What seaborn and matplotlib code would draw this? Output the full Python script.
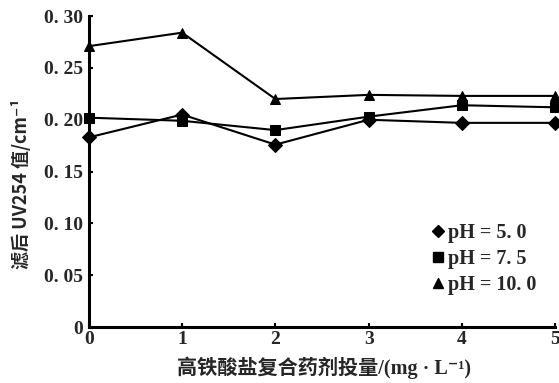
import matplotlib
matplotlib.use("Agg")
import matplotlib.pyplot as plt
from matplotlib.lines import Line2D
import seaborn as sns
import pandas as pd

# Dosage of composite ferrate agent (mg/L)
dosage = [0, 1, 2, 3, 4, 5]
# UV254 after filtration (cm^-1) for three pH values
uv_ph50 = [0.183, 0.205, 0.176, 0.200, 0.197, 0.197]
uv_ph75 = [0.202, 0.199, 0.190, 0.203, 0.214, 0.212]
uv_ph100 = [0.271, 0.284, 0.220, 0.224, 0.223, 0.223]
series_labels = ["pH = 5. 0", "pH = 7. 5", "pH = 10. 0"]
y_ticks = [0, 0.05, 0.10, 0.15, 0.20, 0.25, 0.30]
y_tick_labels = ["0", "0. 05", "0. 10", "0. 15", "0. 20", "0. 25", "0. 30"]
x_tick_labels = ["0", "1", "2", "3", "4", "5"]

df = pd.DataFrame({
    "dosage": dosage * 3,
    "uv": uv_ph50 + uv_ph75 + uv_ph100,
    "series": [series_labels[0]] * 6 + [series_labels[1]] * 6 + [series_labels[2]] * 6,
})

sns.set_theme(style="white")
fam = ["Liberation Serif", "Noto Sans CJK SC", "DejaVu Sans"]
cjk = ["Noto Sans CJK SC", "DejaVu Sans"]
plt.rcParams["font.family"] = fam

fig = plt.figure(figsize=(5.59, 3.83), dpi=100)
ax = fig.add_axes([0.159, 0.146, 0.834, 0.812])

markers = {series_labels[0]: "D", series_labels[1]: "s", series_labels[2]: "^"}
sns.lineplot(data=df, x="dosage", y="uv", hue="series", style="series",
             markers=markers, dashes=False, palette=["black"] * 3,
             linewidth=1.5, markersize=7, markeredgecolor="black",
             legend=False, ax=ax, clip_on=False)

ax.set_xlim(0, 5)
ax.set_ylim(0, 0.30)
ax.set_xticks(dosage)
ax.set_xticklabels(x_tick_labels)
ax.set_yticks(y_ticks)
ax.set_yticklabels(y_tick_labels)
for lab in ax.get_xticklabels():
    lab.set_fontweight("bold")
    lab.set_fontsize(14)
    lab.set_family(fam)
for lab in ax.get_yticklabels():
    lab.set_fontweight("bold")
    lab.set_fontsize(14)
    lab.set_family(fam)

for side in ["top", "right"]:
    ax.spines[side].set_visible(False)
for side in ["left", "bottom"]:
    ax.spines[side].set_color("black")
    ax.spines[side].set_linewidth(2.2)
ax.tick_params(axis="both", direction="in", length=3, width=1.5, color="black",
               left=True, bottom=True, pad=4)
ax.tick_params(axis="x", pad=3)

ax.set_xlabel("高铁酸盐复合药剂投量/(mg · L⁻¹)", fontsize=14.5,
              fontweight="bold", family=fam)
ax.set_ylabel("滤后 UV254 值/cm⁻¹", fontsize=13, fontweight="bold",
              family=cjk)
ax.xaxis.set_label_coords(0.505, -0.095)
ax.yaxis.set_label_coords(-0.125, 0.46)

handles = [Line2D([], [], linestyle="none", marker=markers[s], color="black",
                  markersize=6.5) for s in series_labels]
leg = ax.legend(handles, series_labels, loc="lower right",
                bbox_to_anchor=(0.985, 0.065), frameon=False,
                handlelength=0.5, handletextpad=0.25, labelspacing=0.3,
                borderaxespad=0.2,
                prop={"family": fam, "weight": "bold", "size": 14.5})

fig.savefig("out.png", dpi=100)
